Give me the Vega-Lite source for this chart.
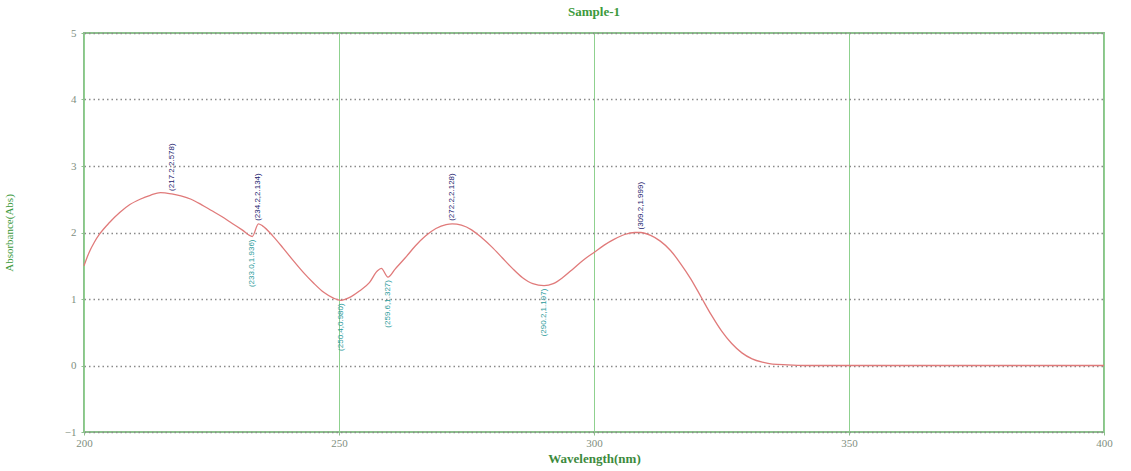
{
  "$schema": "https://vega.github.io/schema/vega-lite/v6.json",
  "autosize": {"type": "none"},
  "width": 1020,
  "height": 399,
  "padding": {"left": 84, "top": 33, "right": 27, "bottom": 39},
  "background": "white",
  "config": {
    "view": {"stroke": "#8cc08c", "strokeWidth": 2},
    "font": "Liberation Serif"
  },
  "title": {
    "text": "Sample-1",
    "font": "Liberation Serif",
    "fontSize": 13,
    "fontWeight": "bold",
    "color": "#3c9a3c",
    "offset": 8
  },
  "datasets": {
    "spectrum": [
      {"wl": 200, "abs": 1.50}, {"wl": 201, "abs": 1.70}, {"wl": 202, "abs": 1.85},
      {"wl": 203, "abs": 1.97}, {"wl": 205, "abs": 2.15}, {"wl": 207, "abs": 2.30},
      {"wl": 209, "abs": 2.42}, {"wl": 211, "abs": 2.50}, {"wl": 213, "abs": 2.56},
      {"wl": 215, "abs": 2.60}, {"wl": 217.2, "abs": 2.58}, {"wl": 219, "abs": 2.55},
      {"wl": 221, "abs": 2.50}, {"wl": 223, "abs": 2.42}, {"wl": 225, "abs": 2.33},
      {"wl": 227, "abs": 2.24}, {"wl": 229, "abs": 2.14}, {"wl": 231, "abs": 2.04},
      {"wl": 233, "abs": 1.94}, {"wl": 234.2, "abs": 2.13}, {"wl": 235, "abs": 2.10},
      {"wl": 237, "abs": 1.95}, {"wl": 239, "abs": 1.77}, {"wl": 241, "abs": 1.58},
      {"wl": 243, "abs": 1.40}, {"wl": 245, "abs": 1.24}, {"wl": 247, "abs": 1.10},
      {"wl": 249, "abs": 1.01}, {"wl": 250.4, "abs": 0.98}, {"wl": 252, "abs": 1.02},
      {"wl": 254, "abs": 1.12}, {"wl": 256, "abs": 1.25}, {"wl": 257.5, "abs": 1.42},
      {"wl": 258.3, "abs": 1.46}, {"wl": 259.6, "abs": 1.33}, {"wl": 261, "abs": 1.45},
      {"wl": 263, "abs": 1.62}, {"wl": 265, "abs": 1.80}, {"wl": 267, "abs": 1.95},
      {"wl": 269, "abs": 2.06}, {"wl": 271, "abs": 2.12}, {"wl": 272.2, "abs": 2.13},
      {"wl": 274, "abs": 2.11}, {"wl": 276, "abs": 2.04}, {"wl": 278, "abs": 1.92},
      {"wl": 280, "abs": 1.78}, {"wl": 282, "abs": 1.62}, {"wl": 284, "abs": 1.46},
      {"wl": 286, "abs": 1.32}, {"wl": 288, "abs": 1.23}, {"wl": 290.2, "abs": 1.20},
      {"wl": 292, "abs": 1.23}, {"wl": 294, "abs": 1.33}, {"wl": 296, "abs": 1.46},
      {"wl": 298, "abs": 1.59}, {"wl": 300, "abs": 1.70}, {"wl": 302, "abs": 1.81},
      {"wl": 304, "abs": 1.90}, {"wl": 306, "abs": 1.97}, {"wl": 308, "abs": 2.00},
      {"wl": 309.2, "abs": 2.00}, {"wl": 311, "abs": 1.96}, {"wl": 313, "abs": 1.87},
      {"wl": 315, "abs": 1.73}, {"wl": 317, "abs": 1.53}, {"wl": 319, "abs": 1.30},
      {"wl": 321, "abs": 1.03}, {"wl": 323, "abs": 0.76}, {"wl": 325, "abs": 0.52},
      {"wl": 327, "abs": 0.33}, {"wl": 329, "abs": 0.19}, {"wl": 331, "abs": 0.10},
      {"wl": 333, "abs": 0.05}, {"wl": 335, "abs": 0.02}, {"wl": 338, "abs": 0.01},
      {"wl": 342, "abs": 0.00}, {"wl": 350, "abs": 0.00}, {"wl": 360, "abs": 0.00},
      {"wl": 370, "abs": 0.00}, {"wl": 380, "abs": 0.00}, {"wl": 390, "abs": 0.00},
      {"wl": 400, "abs": 0.00}
    ],
    "peaks": [
      {"wl": 217.2, "abs": 2.58, "label": "(217.2,2.578)"},
      {"wl": 234.2, "abs": 2.13, "label": "(234.2,2.134)"},
      {"wl": 272.2, "abs": 2.13, "label": "(272.2,2.128)"},
      {"wl": 309.2, "abs": 2.00, "label": "(309.2,1.999)"}
    ],
    "valleys": [
      {"wl": 233.0, "abs": 1.94, "label": "(233.0,1.936)"},
      {"wl": 250.4, "abs": 0.98, "label": "(250.4,0.980)"},
      {"wl": 259.6, "abs": 1.33, "label": "(259.6,1.327)"},
      {"wl": 290.2, "abs": 1.20, "label": "(290.2,1.197)"}
    ]
  },
  "layer": [
    {
      "data": {"name": "spectrum"},
      "mark": {"type": "line", "color": "#e07a7a", "strokeWidth": 1.3, "interpolate": "monotone"},
      "encoding": {
        "x": {
          "field": "wl", "type": "quantitative",
          "scale": {"domain": [200, 400], "nice": false},
          "axis": {
            "values": [200, 250, 300, 350, 400],
            "format": "d",
            "labelFlush": false,
            "title": "Wavelength(nm)",
            "titleFont": "Liberation Serif", "titleFontSize": 13, "titleFontWeight": "bold",
            "titleColor": "#3c8a3c", "titlePadding": 4,
            "labelFont": "Liberation Serif", "labelFontSize": 11, "labelColor": "#7f8f7f",
            "labelPadding": 2,
            "domain": false, "tickSize": 3, "tickColor": "#8cc08c",
            "grid": true, "gridColor": "#8fd18f", "gridWidth": 1
          }
        },
        "y": {
          "field": "abs", "type": "quantitative",
          "scale": {"domain": [-1, 5], "nice": false},
          "axis": {
            "values": [-1, 0, 1, 2, 3, 4, 5],
            "format": "d",
            "labelFlush": false,
            "title": "Absorbance(Abs)",
            "titleFont": "Liberation Serif", "titleFontSize": 11, "titleFontWeight": "normal",
            "titleColor": "#3c9a3c", "titlePadding": 50,
            "labelFont": "Liberation Serif", "labelFontSize": 11, "labelColor": "#7f8f7f",
            "labelPadding": 5,
            "domain": false, "tickSize": 3, "tickColor": "#8cc08c",
            "grid": true, "gridColor": "#8a8a8a", "gridDash": [1.5, 3], "gridWidth": 1.5
          }
        }
      }
    },
    {
      "data": {"name": "peaks"},
      "mark": {"type": "text", "angle": -90, "align": "left", "baseline": "middle",
               "dx": 3, "fontSize": 8, "font": "Liberation Sans", "color": "#1a1a6e"},
      "encoding": {
        "x": {"field": "wl", "type": "quantitative"},
        "y": {"field": "abs", "type": "quantitative"},
        "text": {"field": "label"}
      }
    },
    {
      "data": {"name": "valleys"},
      "mark": {"type": "text", "angle": -90, "align": "right", "baseline": "middle",
               "dx": -3, "fontSize": 8, "font": "Liberation Sans", "color": "#2a9a9a"},
      "encoding": {
        "x": {"field": "wl", "type": "quantitative"},
        "y": {"field": "abs", "type": "quantitative"},
        "text": {"field": "label"}
      }
    }
  ]
}
